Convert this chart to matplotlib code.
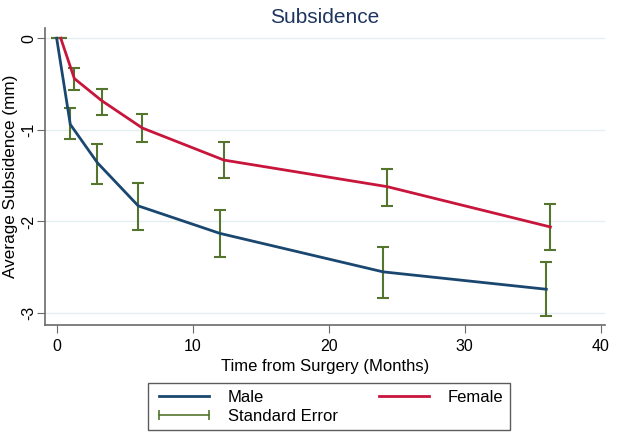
import numpy as np
import matplotlib
matplotlib.use("Agg")
import matplotlib.pyplot as plt
from matplotlib.lines import Line2D

plt.rcParams['font.family'] = ['Liberation Sans', 'DejaVu Sans']

# months after surgery
months = [0, 1, 3, 6, 12, 24, 36]

male_mean = [0, -0.94, -1.36, -1.83, -2.13, -2.55, -2.74]
male_hi = [0, -0.76, -1.15, -1.58, -1.88, -2.28, -2.44]
male_lo = [0, -1.10, -1.59, -2.09, -2.39, -2.84, -3.03]

female_mean = [0, -0.44, -0.68, -0.98, -1.33, -1.62, -2.06]
female_hi = [0, -0.32, -0.55, -0.83, -1.13, -1.43, -1.81]
female_lo = [0, -0.56, -0.84, -1.13, -1.53, -1.83, -2.31]

female_shift = 0.3

navy = '#1a476f'
red = '#c8153c'
green = '#55752f'

fig = plt.figure(figsize=(6.29, 4.43), dpi=100)
ax = fig.add_axes([0.0715, 0.2664, 0.890, 0.670])

mx = np.array(months, dtype=float)
fx = mx + female_shift
mm = np.array(male_mean)
fm = np.array(female_mean)

ax.errorbar(mx, mm, yerr=[mm - np.array(male_lo), np.array(male_hi) - mm],
            fmt='none', ecolor=green, elinewidth=1.5, capsize=4, capthick=1.5, zorder=2)
ax.errorbar(fx, fm, yerr=[fm - np.array(female_lo), np.array(female_hi) - fm],
            fmt='none', ecolor=green, elinewidth=1.5, capsize=4, capthick=1.5, zorder=2)
ax.plot(mx, mm, color=navy, lw=2, zorder=3)
ax.plot(fx, fm, color=red, lw=2, zorder=3)

ax.set_xlim(-0.86, 40.3)
ax.set_ylim(-3.13, 0.11)
ax.set_xticks([0, 10, 20, 30, 40])
ax.set_yticks([0, -1, -2, -3])
ax.set_yticklabels(['0', '-1', '-2', '-3'], rotation=90, va='center')
ax.grid(axis='y', color='#e4eef0', lw=1)
ax.set_axisbelow(True)
for s in ['top', 'right']:
    ax.spines[s].set_visible(False)
for s in ['left', 'bottom']:
    ax.spines[s].set_color('#6b6b6b')
    ax.spines[s].set_linewidth(1.2)
ax.tick_params(colors='#6b6b6b', labelcolor='black', labelsize=11.5, length=6)
ax.tick_params(axis='x', pad=4)
ax.tick_params(axis='y', pad=0)

ax.set_xlabel('Time from Surgery (Months)', fontsize=12, labelpad=4)
ax.set_ylabel('Average Subsidence (mm)', fontsize=12.3)
ax.yaxis.set_label_coords(-0.048, 0.5)
ax.set_title('Subsidence', fontsize=15, color='#1f3560', pad=4)

handles = [Line2D([], [], color=navy, lw=2),
           Line2D([], [], color=green, lw=1.2, marker='|', markersize=7,
                  markeredgewidth=1.2),
           Line2D([], [], color=red, lw=2)]
leg = fig.legend(handles, ['Male', 'Standard Error', 'Female'],
                 loc='center', bbox_to_anchor=(0.523, 0.082), ncol=2,
                 numpoints=2, frameon=True, fancybox=False, edgecolor='#333333',
                 fontsize=12, handlelength=3.6, columnspacing=2.2,
                 borderpad=0.4, labelspacing=0.25)
leg.get_frame().set_linewidth(1)

fig.savefig('out.png', dpi=100)
